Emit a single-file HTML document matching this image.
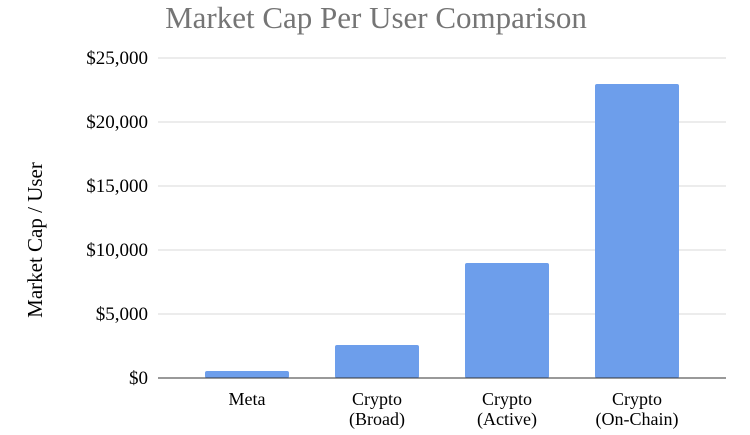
<!DOCTYPE html>
<html><head><style>
body{margin:0;background:#fff;}
svg text{font-family:"Liberation Serif",serif;}
</style></head><body>
<svg width="750" height="430" xmlns="http://www.w3.org/2000/svg">
<text x="376" y="28" text-anchor="middle" font-size="31" fill="#757575">Market Cap Per User Comparison</text>
<g stroke="#d9d9d9" stroke-width="1">
<line x1="158" x2="726" y1="58" y2="58"/>
<line x1="158" x2="726" y1="122" y2="122"/>
<line x1="158" x2="726" y1="186" y2="186"/>
<line x1="158" x2="726" y1="250" y2="250"/>
<line x1="158" x2="726" y1="314" y2="314"/>
</g>
<g font-size="19" fill="#000" text-anchor="end">
<text x="148" y="64">$25,000</text>
<text x="148" y="128">$20,000</text>
<text x="148" y="192">$15,000</text>
<text x="148" y="256">$10,000</text>
<text x="148" y="320">$5,000</text>
<text x="148" y="384">$0</text>
</g>
<g fill="#6d9eeb">
<rect x="205" y="371" width="84" height="7" rx="2"/>
<rect x="335" y="345" width="84" height="33" rx="2"/>
<rect x="465" y="263" width="84" height="115" rx="2"/>
<rect x="595" y="84" width="84" height="294" rx="2"/>
</g>
<line x1="158" x2="726" y1="378" y2="378" stroke="#333" stroke-width="1"/>
<g font-size="18" fill="#000" text-anchor="middle">
<text x="247" y="405">Meta</text>
<text x="377" y="405">Crypto</text><text x="377" y="425">(Broad)</text>
<text x="507" y="405">Crypto</text><text x="507" y="425">(Active)</text>
<text x="637" y="405">Crypto</text><text x="637" y="425">(On-Chain)</text>
</g>
<text transform="translate(42,240) rotate(-90)" text-anchor="middle" font-size="21" fill="#000">Market Cap / User</text>
</svg>
</body></html>
